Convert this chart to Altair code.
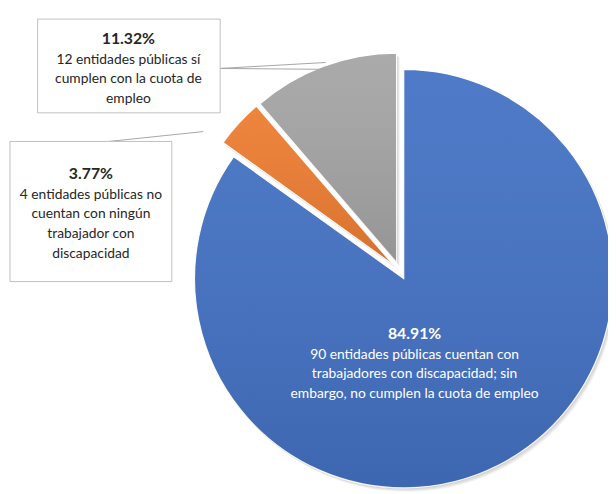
import math
import altair as alt
import pandas as pd

# ---- data ----
categories = ["no_cumplen", "sin_trabajador", "si_cumplen"]
counts = [90, 4, 12]
percent_labels = ["84.91%", "3.77%", "11.32%"]
descriptions = [
    ["90 entidades públicas cuentan con", "trabajadores con discapacidad; sin", "embargo, no cumplen la cuota de empleo"],
    ["4 entidades públicas no", "cuentan con ningún", "trabajador con", "discapacidad"],
    ["12 entidades públicas sí", "cumplen con la cuota de", "empleo"],
]
colors = ["#4472C4", "#ED7D31", "#A5A5A5"]
exploded = ["sin_trabajador", "si_cumplen"]

# ---- layout (pixels in view coordinates) ----
W, H = 608, 486
CX, CY, R, EXPLODE = 401, 271, 212, 18
label_anchor = {  # x center, y of percentage line, text colour
    "no_cumplen": (412, 327, "#FFFFFF"),
    "sin_trabajador": (84, 165, "#262626"),
    "si_cumplen": (122, 28, "#262626"),
}
boxes = [(30, 8, 215, 103), (2, 132, 166, 274)]
leaders = [(215, 58, 329, 59), (215, 58, 322, 52), (102, 132, 198, 122)]
LINE_GAP, FIRST_GAP = 20, 21

total = sum(counts)
group_start = sum(c for cat, c in zip(categories, counts) if cat not in exploded)
group_mid = math.pi * (group_start / total + 1.0)

pie_df = pd.DataFrame({"cat": categories, "count": counts, "order": list(range(len(categories)))})

exploded_js = "[" + ",".join(f"'{c}'" for c in exploded) + "]"


def pie_base(dx=0, dy=0):
    return (
        alt.Chart(pie_df)
        .transform_window(cum="sum(count)", sort=[alt.SortField("order")], frame=[None, 0])
        .transform_calculate(
            start="datum.cum - datum.count",
            mid=f"2*PI*(datum.cum - datum.count/2)/{total}",
            ex=f"indexof({exploded_js}, datum.cat) >= 0 ? {EXPLODE} : 0",
        )
        .transform_calculate(dang=f"0.5*datum.mid + 0.5*{group_mid}")
        .transform_calculate(
            px=f"{CX + dx} + datum.ex*sin(datum.dang)",
            py=f"{CY + dy} - datum.ex*cos(datum.dang)",
        )
    )


theta_scale = alt.Scale(domain=[0, total], range=[0, 2 * math.pi])


def arc_enc():
    return dict(
        theta=alt.Theta("start:Q", scale=theta_scale),
        theta2=alt.Theta2("cum:Q"),
        x=alt.X("px:Q", scale=None, axis=None),
        y=alt.Y("py:Q", scale=None, axis=None),
    )


layers = []
# soft shadow
for k in range(1, 5):
    layers.append(
        pie_base(k * 0.8, k * 1.0)
        .mark_arc(outerRadius=R, color="#000000", opacity=0.05)
        .encode(**arc_enc())
    )

slices = pie_base().mark_arc(outerRadius=R, stroke="white", strokeWidth=1.2).encode(
    color=alt.Color("cat:N", scale=alt.Scale(domain=categories, range=colors), legend=None),
    **arc_enc(),
)
layers.append(slices)

shade = pie_base().mark_arc(
    outerRadius=R,
    fill=alt.Gradient(
        gradient="linear",
        stops=[
            alt.GradientStop(color="rgba(255,255,255,0.06)", offset=0),
            alt.GradientStop(color="rgba(0,0,0,0.10)", offset=1),
        ],
        x1=0, x2=0, y1=0, y2=1,
    ),
).encode(**arc_enc())
layers.append(shade)

# leader lines
lead_df = pd.DataFrame(leaders, columns=["x1", "y1", "x2", "y2"])
layers.append(
    alt.Chart(lead_df).mark_rule(color="#A6A6A6", strokeWidth=1).encode(
        x=alt.X("x1:Q", scale=None, axis=None), y=alt.Y("y1:Q", scale=None, axis=None),
        x2="x2:Q", y2="y2:Q",
    )
)

# boxes
box_df = pd.DataFrame(boxes, columns=["x1", "y1", "x2", "y2"])
layers.append(
    alt.Chart(box_df).mark_rect(fill="white", stroke="#BFBFBF", strokeWidth=1).encode(
        x=alt.X("x1:Q", scale=None, axis=None), y=alt.Y("y1:Q", scale=None, axis=None),
        x2="x2:Q", y2="y2:Q",
    )
)

# text
title_rows, line_rows = [], []
for cat, pct, desc in zip(categories, percent_labels, descriptions):
    ax, ay, col = label_anchor[cat]
    title_rows.append({"t": pct, "x": ax, "y": ay, "c": col})
    for i, ln in enumerate(desc):
        line_rows.append({"t": ln, "x": ax, "y": ay + FIRST_GAP + LINE_GAP * i, "c": col})

layers.append(
    alt.Chart(pd.DataFrame(title_rows)).mark_text(
        font="Lato", fontSize=16, fontWeight="bold", align="center", baseline="middle"
    ).encode(
        x=alt.X("x:Q", scale=None, axis=None), y=alt.Y("y:Q", scale=None, axis=None),
        text="t:N", color=alt.Color("c:N", scale=None),
    )
)
layers.append(
    alt.Chart(pd.DataFrame(line_rows)).mark_text(
        font="Lato", fontSize=14, align="center", baseline="middle"
    ).encode(
        x=alt.X("x:Q", scale=None, axis=None), y=alt.Y("y:Q", scale=None, axis=None),
        text="t:N", color=alt.Color("c:N", scale=None),
    )
)

chart = (
    alt.layer(*layers)
    .resolve_scale(color="independent")
    .properties(width=W, height=H, autosize=alt.AutoSizeParams(type="none"), padding=0)
    .configure_view(stroke=None)
)

chart.save("out.html", embed_options={"renderer": "svg", "actions": False})
